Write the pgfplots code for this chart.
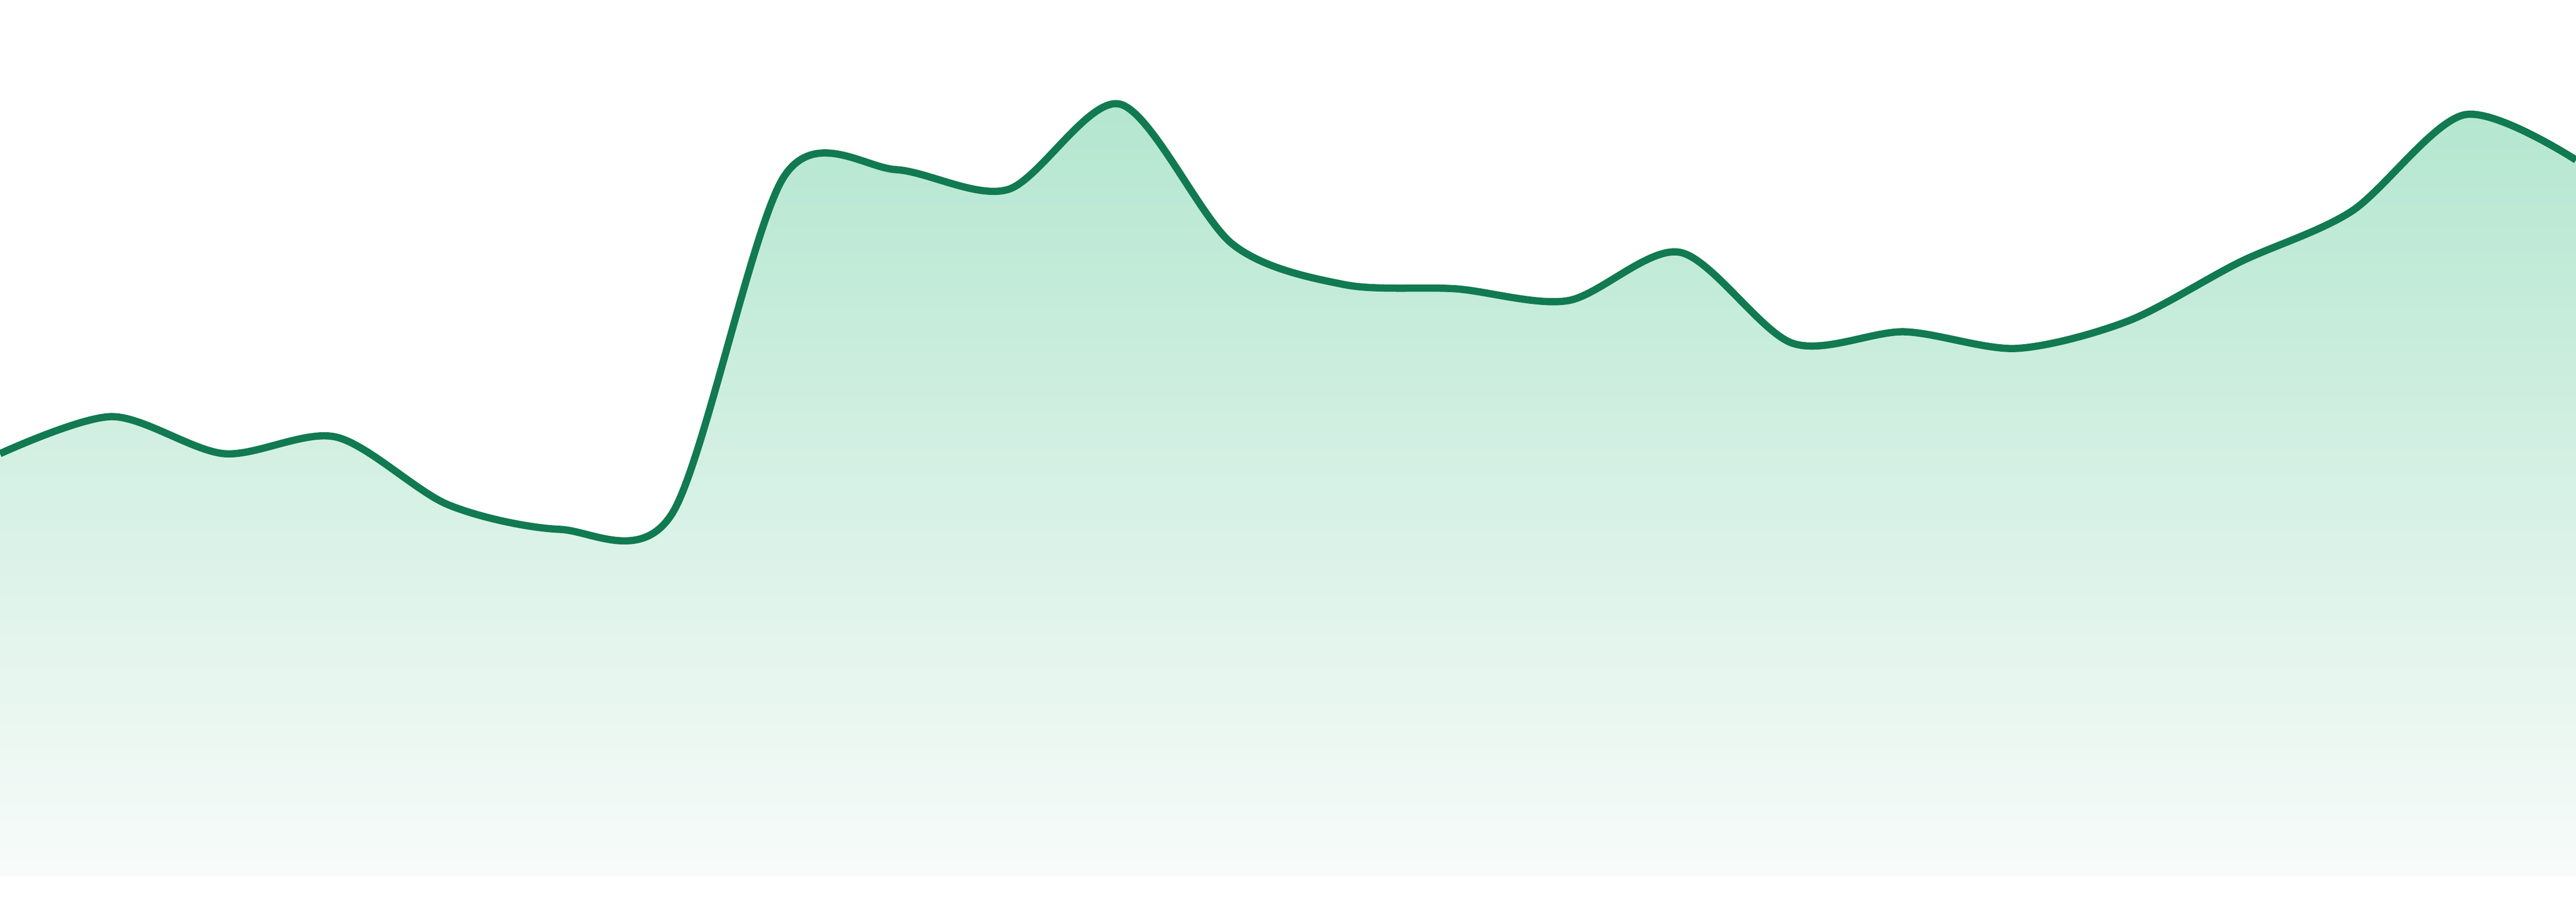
\documentclass[border=0pt]{standalone}
\usepackage{pgfplots}
\pgfplotsset{compat=1.18}

\definecolor{lineGreen}{HTML}{117A50}
\definecolor{fillTop}{HTML}{B3E6CF}
\definecolor{fillBot}{HTML}{F8FBFA}

\pgfplotstableread{
x  y
0  787
1  856
2  787
3  818
4  692
5  646
6  675
7  1303
8  1316
9  1279
10 1438
11 1178
12 1102
13 1094
14 1072
15 1162
16 993
17 1014
18 983
19 1034
20 1144
21 1239
22 1418
23 1334
}\series

\begin{document}
\begin{tikzpicture}
  \useasboundingbox (0,0) rectangle (480pt,168pt);
  \begin{axis}[
      at     = {(0pt,4.8pt)},
      anchor = south west,
      scale only axis,
      width  = 480pt,
      height = 163.2pt,
      xmin   = 0,
      xmax   = 23,
      ymin   = 0,
      ymax   = 1632,
      hide axis,
    ]
    % shaded area under the curve
    \addplot[
      smooth,
      tension = 0.5,
      draw = none,
      top color    = fillTop,
      bottom color = fillBot,
    ] table[x=x, y=y] {\series} \closedcycle;

    % the line itself
    \addplot[
      smooth,
      tension    = 0.5,
      color      = lineGreen,
      line width = 1.35pt,
      mark       = none,
    ] table[x=x, y=y] {\series};
  \end{axis}
\end{tikzpicture}
\end{document}
